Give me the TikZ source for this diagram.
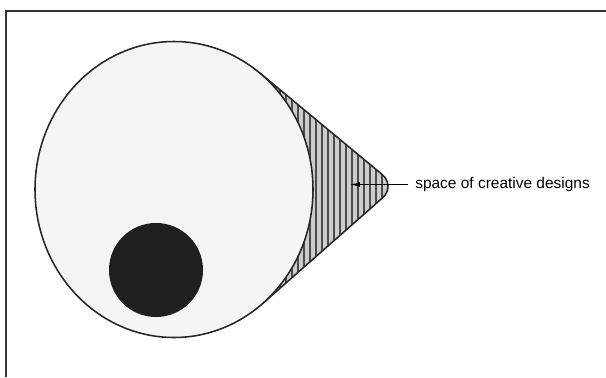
\documentclass[tikz,border=0pt]{standalone}
\usepackage{fontspec}
\newfontfamily\labelfont{Liberation Sans}
\usetikzlibrary{arrows.meta}

\begin{document}
\begin{tikzpicture}[x=0.025cm, y=-0.025cm, >={Latex[length=7pt,width=3.5pt]},
  frame/.style={line width=1.2pt, black!80},
  rim/.style={line width=1.1pt, black!85},
  hatch/.style={line width=1.1pt, black!70}]
\useasboundingbox (0,0) rectangle (606,377);

% outer frame, open at bottom and right
\coordinate (fbl) at (6,377);
\coordinate (ftl) at (6,11);
\coordinate (ftr) at (606,11);
\draw[frame] (fbl) -- (ftl) -- (ftr);

% the big space and the teardrop around it
\coordinate (ctr) at (174,189.5);
\coordinate (tanU) at (259.5,72.7);
\coordinate (tip) at (396,186);
\coordinate (tanL) at (262.7,303.5);

\begin{scope}
\clip (tanU) [rounded corners=0.45cm] -- (tip) -- (tanL) [sharp corners] -- (ctr) -- cycle;
\fill[gray!40] (240,50) rectangle (410,330);
\foreach \x in {250,256,...,406}
  \draw[hatch] (\x,50) -- (\x,330);
\end{scope}
\draw[rim] (tanU) [rounded corners=0.45cm] -- (tip) -- (tanL);

\draw[rim, fill=black!4] (ctr) ellipse [x radius=139, y radius=148];

% the small dark space
\node[circle, fill=black!88, minimum size=2.35cm, inner sep=0] (dark) at (156,270) {};

% label
\node[anchor=west, inner xsep=0.175cm, inner ysep=0, font=\labelfont\fontsize{11}{13}\selectfont]
  (lbl) at (408,184.5) {space of creative designs};
\coordinate (aim) at (350,184.5);
\draw[->, line width=0.8pt] (lbl.west) -- (aim);
\end{tikzpicture}
\end{document}
